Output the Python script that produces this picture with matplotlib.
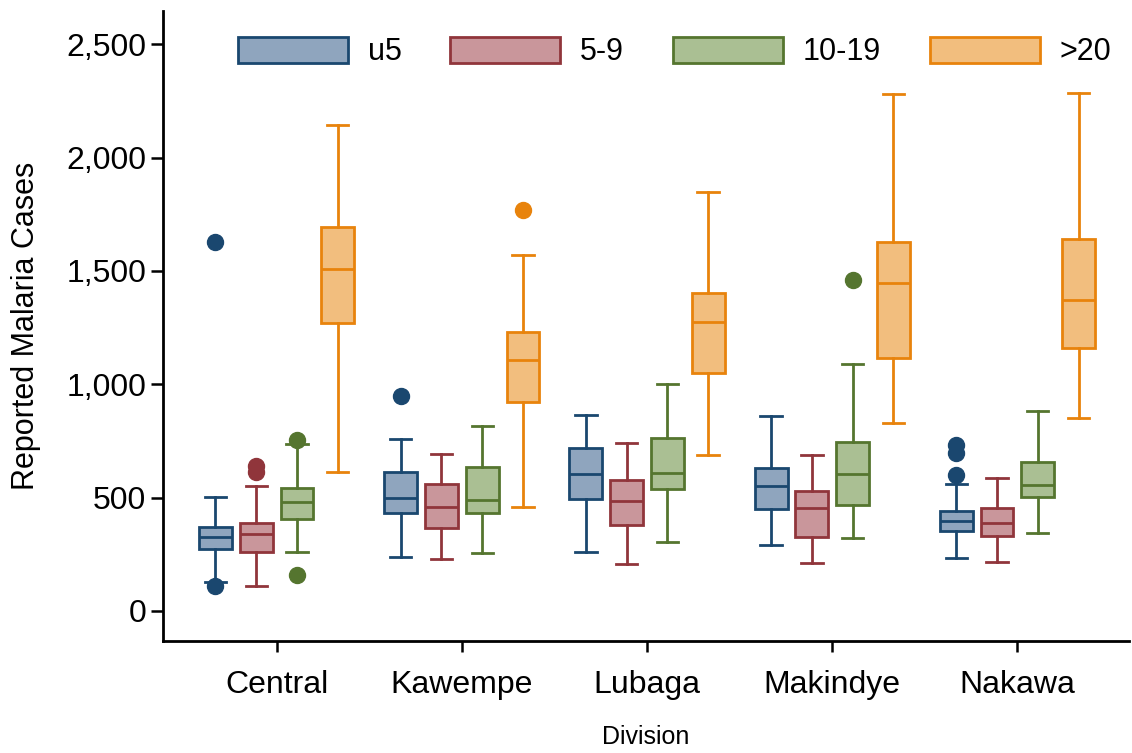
import matplotlib
matplotlib.use("Agg")
from matplotlib import pyplot as plt
from matplotlib.patches import Patch
from matplotlib.ticker import FuncFormatter
import numpy as np

plt.rcParams['font.family'] = ['Liberation Sans', 'DejaVu Sans']

divisions = ['Central', 'Kawempe', 'Lubaga', 'Makindye', 'Nakawa']
groups = ['u5', '5-9', '10-19', '>20']

# box statistics, one row per division, one column per age group
whislo = [[128, 110, 261, 614],
          [240, 231, 255, 458],
          [262, 207, 305, 690],
          [292, 212, 322, 830],
          [235, 216, 344, 850]]
q1 = [[274, 261, 406, 1270],
      [431, 367, 431, 920],
      [492, 380, 540, 1048],
      [450, 325, 467, 1118],
      [352, 331, 504, 1158]]
med = [[327, 340, 481, 1510],
       [496, 460, 491, 1105],
       [605, 487, 607, 1277],
       [552, 455, 604, 1445],
       [398, 389, 557, 1372]]
q3 = [[371, 389, 543, 1693],
      [613, 560, 633, 1232],
      [718, 578, 762, 1402],
      [630, 530, 745, 1630],
      [440, 455, 658, 1640]]
whishi = [[503, 552, 735, 2145],
          [758, 691, 814, 1570],
          [865, 740, 1000, 1848],
          [862, 688, 1090, 2280],
          [562, 587, 883, 2285]]
fliers = [[[110, 1630], [614, 640], [160, 755], []],
          [[950], [], [], [1770]],
          [[], [], [], []],
          [[], [], [1462], []],
          [[598, 695, 730], [], [], []]]

edge_colors = ['#1a476f', '#90353b', '#55752f', '#e8830c']
fill_colors = ['#8fa5be', '#c9969b', '#aabf93', '#f2be7e']

fig = plt.figure(figsize=(11.32, 7.53), dpi=100)
ax = fig.add_axes([0.144, 0.149, 0.853, 0.836])

offsets = [-0.33, -0.11, 0.11, 0.33]
lw = 2.0
for g in range(len(groups)):
    stats = []
    for d in range(len(divisions)):
        stats.append(dict(whislo=whislo[d][g], q1=q1[d][g], med=med[d][g],
                          q3=q3[d][g], whishi=whishi[d][g], fliers=fliers[d][g]))
    pos = np.arange(len(divisions)) + offsets[g]
    c = edge_colors[g]
    ax.bxp(stats, positions=pos, widths=0.177, capwidths=0.115, patch_artist=True,
           showfliers=True, manage_ticks=False,
           boxprops=dict(facecolor=fill_colors[g], edgecolor=c, linewidth=lw),
           medianprops=dict(color=c, linewidth=lw),
           whiskerprops=dict(color=c, linewidth=lw),
           capprops=dict(color=c, linewidth=lw),
           flierprops=dict(marker='o', markerfacecolor=c, markeredgecolor=c, markersize=11.5))

ax.set_xlim(-0.613, 4.60)
ax.set_ylim(-132, 2646)
ax.set_xticks(np.arange(len(divisions)))
ax.set_xticklabels(divisions)
ax.set_yticks([0, 500, 1000, 1500, 2000, 2500])
ax.yaxis.set_major_formatter(FuncFormatter(lambda v, p: f'{int(v):,}'))
ax.tick_params(axis='y', labelsize=23, length=9, width=1.8, pad=3)
ax.tick_params(axis='x', labelsize=23, length=8, width=1.8, pad=13)

for s in ['top', 'right']:
    ax.spines[s].set_visible(False)
for s in ['left', 'bottom']:
    ax.spines[s].set_linewidth(2.0)

ax.set_ylabel('Reported Malaria Cases', fontsize=22, labelpad=18)
ax.set_xlabel('Division', fontsize=18, labelpad=18)

handles = [Patch(facecolor=fill_colors[i], edgecolor=edge_colors[i], linewidth=lw, label=groups[i])
           for i in range(len(groups))]
fig.legend(handles=handles, loc='center', bbox_to_anchor=(0.596, 0.931), ncol=4, frameon=False,
           fontsize=22, handlelength=3.6, handleheight=0.95, handletextpad=0.65,
           columnspacing=1.6, borderpad=0, borderaxespad=0)

fig.savefig('out.png', dpi=100)
